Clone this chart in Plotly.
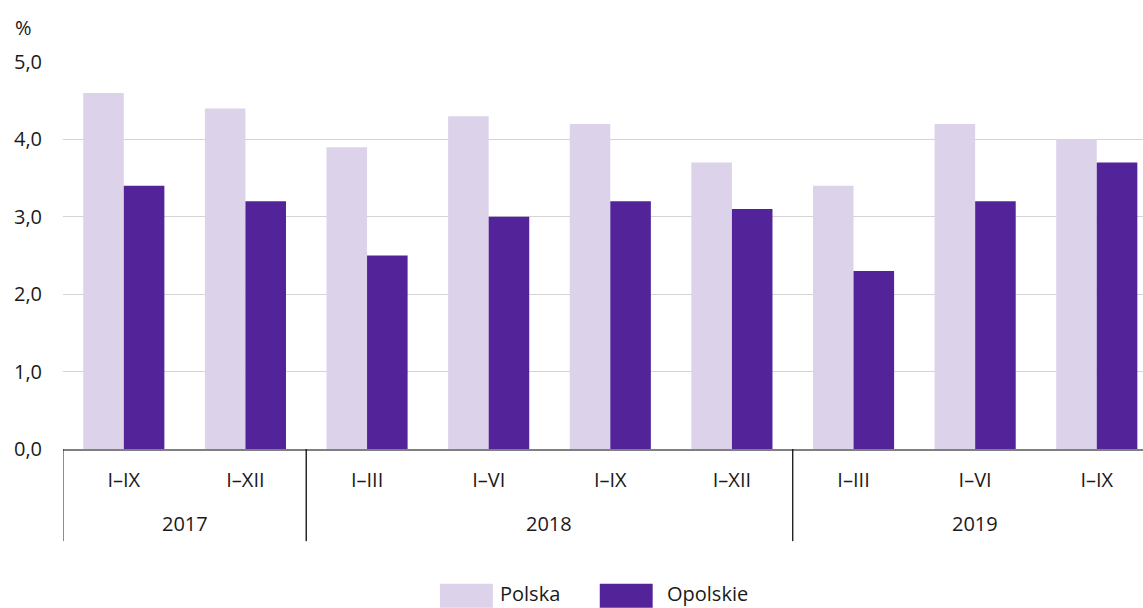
import plotly.graph_objects as go

years = ["2017", "2017", "2018", "2018", "2018", "2018", "2019", "2019", "2019"]
periods = ["I–IX", "I–XII", "I–III", "I–VI", "I–IX", "I–XII", "I–III", "I–VI", "I–IX"]
series_names = ["Polska", "Opolskie"]
polska = [4.6, 4.4, 3.9, 4.3, 4.2, 3.7, 3.4, 4.2, 4.0]
opolskie = [3.4, 3.2, 2.5, 3.0, 3.2, 3.1, 2.3, 3.2, 3.7]
colors = ["#dcd3ea", "#532499"]

FONT = "Open Sans"
TXT = "#1a1a1a"
x_pos = list(range(len(periods)))
x_max = 8.38  # right edge is cut off in the original

fig = go.Figure()
for name, vals, col in zip(series_names, [polska, opolskie], colors):
    fig.add_trace(
        go.Bar(
            x=x_pos,
            y=vals,
            name=name,
            marker=dict(color=col, line=dict(width=0)),
            showlegend=False,
        )
    )

# year groups: labels + divider lines
groups = []
for i, y in enumerate(years):
    if not groups or groups[-1][0] != y:
        groups.append([y, i, i])
    else:
        groups[-1][2] = i
for y, i0, i1 in groups:
    fig.add_annotation(
        x=(i0 + i1) / 2, y=-0.192, xref="x", yref="paper",
        text=y, showarrow=False, yanchor="middle",
        font=dict(size=20, color=TXT, family=FONT),
    )
    for b in (i0 - 0.5, i1 + 0.5):
        if b < x_max:
            fig.add_shape(
                type="line", xref="x", yref="paper",
                x0=b, x1=b, y0=0, y1=-0.238,
                line=dict(color=TXT, width=1),
            )

# custom legend (large swatches like the original)
legend_x = [(0.349, 0.403), (0.497, 0.557)]
for name, col, (sx, tx) in zip(series_names, colors, legend_x):
    fig.add_shape(
        type="rect", xref="paper", yref="paper",
        x0=sx, x1=sx + 0.049, y0=-0.41, y1=-0.348,
        fillcolor=col, line=dict(width=0),
    )
    fig.add_annotation(
        x=tx, y=-0.374, xref="paper", yref="paper",
        text=name, showarrow=False, xanchor="left", yanchor="middle",
        font=dict(size=20, color=TXT, family=FONT),
    )

fig.add_annotation(
    x=-0.046, y=1.088, xref="paper", yref="paper", text="%",
    showarrow=False, xanchor="left", yanchor="middle",
    font=dict(size=20, color=TXT, family=FONT),
)

fig.update_layout(
    width=1143,
    height=608,
    margin=dict(l=63, r=0, t=62, b=159),
    barmode="group",
    bargap=0.333,
    bargroupgap=0,
    plot_bgcolor="white",
    paper_bgcolor="white",
    separators=", ",
    font=dict(family=FONT, size=20, color=TXT),
)
fig.update_yaxes(
    range=[0, 5],
    dtick=1,
    tickformat=".1f",
    showgrid=True,
    gridcolor="#d4d4d4",
    gridwidth=1,
    zeroline=False,
    showline=False,
    ticks="",
    ticklabelstandoff=20,
    automargin=False,
)
fig.update_xaxes(
    range=[-0.5, x_max],
    tickvals=x_pos,
    ticktext=periods,
    showline=True,
    linecolor="#808080",
    linewidth=1.5,
    showgrid=False,
    ticks="",
    ticklabelstandoff=12,
    automargin=False,
)

# drop the default page margin so the figure sits at the window's corner
fig.write_html(
    "out.html",
    config={"displayModeBar": False},
    post_script="document.body.style.margin='0';document.body.style.overflow='hidden';",
)
